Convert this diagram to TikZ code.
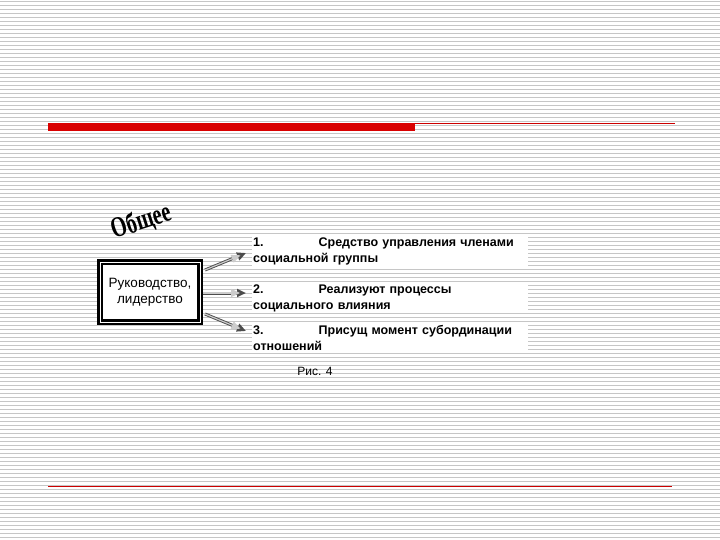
\documentclass[tikz,border=0pt]{standalone}
\usepackage{fontspec}
\setmainfont{Liberation Sans}
\newfontfamily\serifb{Liberation Serif}
\usetikzlibrary{arrows.meta}
\begin{document}
\begin{tikzpicture}[x=1pt,y=-1pt,
  item/.style={anchor=north west,fill=white,inner sep=1pt,text width=274pt,align=left,font=\bfseries\fontsize{12.5}{16}\selectfont},
  arr/.style={draw=gray!60!black,line width=3pt,-{Triangle[length=9pt,width=8pt]},
    postaction={draw=gray!40,line width=1.2pt,shorten >=6pt}}]
\useasboundingbox (0,0) rectangle (720,540);
\fill[white] (0,0) rectangle (720,540);
\foreach \y in {1,5,...,539} \draw[gray!45,line width=0.8pt] (0,\y) -- (720,\y);
\fill[red!85!black] (48,123) rectangle (415,131);
\draw[red!80!black,line width=1pt] (415,123.5) -- (675,123.5);
\draw[red!80!black,line width=1pt] (48,486) -- (672,486);
\node[rotate=18,font=\serifb\bfseries\fontsize{24}{24}\selectfont,xscale=0.85,yscale=1.2] (t) at (141,222) {Общее};
\node[draw=black,line width=2.5pt,fill=white,minimum width=100pt,minimum height=60pt,align=center,font=\fontsize{13.5}{16}\selectfont,double=white,double distance=1pt,inner sep=1pt] (b) at (150,292) {Руководство,\\лидерство};
\node[item] (i1) at (252,237) {1.\hspace{55pt}Средство управления членами социальной группы};
\node[item] (i2) at (252,284) {2.\hspace{55pt}Реализуют процессы\\социального влияния};
\node[item] (i3) at (252,324) {3.\hspace{55pt}Присущ момент субординации отношений};
\node[font=\fontsize{12}{14}\selectfont] (cap) at (315,371) {Рис. 4};
\coordinate (a1) at (205,270); \coordinate (e1) at (246,253);
\coordinate (a2) at (203,293); \coordinate (e2) at (246,293);
\coordinate (a3) at (205,314); \coordinate (e3) at (246,331);
\draw[arr] (a1) -- (e1);
\draw[arr] (a2) -- (e2);
\draw[arr] (a3) -- (e3);
\end{tikzpicture}
\end{document}
